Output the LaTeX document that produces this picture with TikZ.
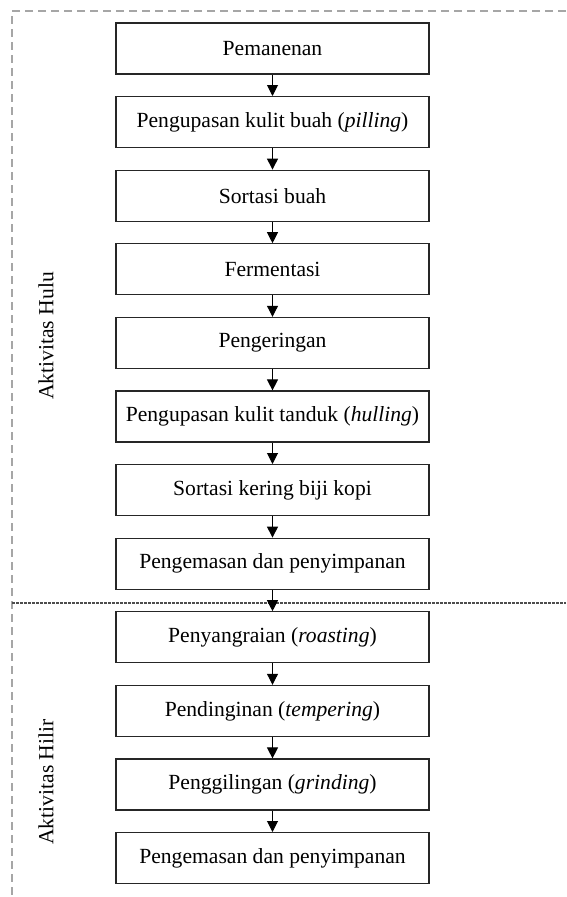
\documentclass[tikz,border=0pt]{standalone}
\usepackage{fontspec}
\setmainfont{Liberation Serif}
\usetikzlibrary{arrows.meta}
\definecolor{dashgray}{HTML}{A6A6A6}
\definecolor{sepgray}{HTML}{4D4D4D}
\tikzset{
  stepbox/.style={draw=black!85, line width=1.2pt, minimum width=313pt, minimum height=51pt, inner sep=0pt, font=\fontsize{21.6}{26}\selectfont, anchor=center},
  flow/.style={line width=1pt, -{Triangle[length=11pt,width=11pt]}},
  sidelabel/.style={rotate=90, font=\fontsize{21.6}{26}\selectfont},
  outerdash/.style={draw=dashgray, line width=1.8pt, dash pattern=on 8pt off 5pt},
  sepline/.style={draw=sepgray, line width=1.1pt, dash pattern=on 2.5pt off 1.5pt}
}
\begin{document}
\begin{tikzpicture}[x=1pt,y=-1pt]
\useasboundingbox (0,0) rectangle (566,897);
\coordinate (tl) at (12,11);
\coordinate (tr) at (566,11);
\coordinate (bl) at (12,897);
\coordinate (sl) at (12,603);
\coordinate (sr) at (566,603);
\draw[outerdash] (tr) -- (tl) -- (bl);
\draw[sepline] (sl) -- (sr);
\node[stepbox] (b1) at (272.5,48.5) {Pemanenan};
\node[stepbox] (b2) at (272.5,122.1) {Pengupasan kulit buah (\textit{pilling})};
\node[stepbox] (b3) at (272.5,195.7) {Sortasi buah};
\node[stepbox] (b4) at (272.5,269.3) {Fermentasi};
\node[stepbox] (b5) at (272.5,342.9) {Pengeringan};
\node[stepbox] (b6) at (272.5,416.5) {Pengupasan kulit tanduk (\textit{hulling})};
\node[stepbox] (b7) at (272.5,490.1) {Sortasi kering biji kopi};
\node[stepbox] (b8) at (272.5,563.7) {Pengemasan dan penyimpanan};
\node[stepbox] (b9) at (272.5,637.3) {Penyangraian (\textit{roasting})};
\node[stepbox] (b10) at (272.5,710.9) {Pendinginan (\textit{tempering})};
\node[stepbox] (b11) at (272.5,784.5) {Penggilingan (\textit{grinding})};
\node[stepbox] (b12) at (272.5,858.1) {Pengemasan dan penyimpanan};
\foreach \a/\b in {b1/b2,b2/b3,b3/b4,b4/b5,b5/b6,b6/b7,b7/b8,b8/b9,b9/b10,b10/b11,b11/b12}
  \draw[flow] (\a.south) -- (\b.north);
\node[sidelabel] (hulu) at (46,336) {Aktivitas Hulu};
\node[sidelabel] (hilir) at (46,782) {Aktivitas Hilir};
\end{tikzpicture}
\end{document}
